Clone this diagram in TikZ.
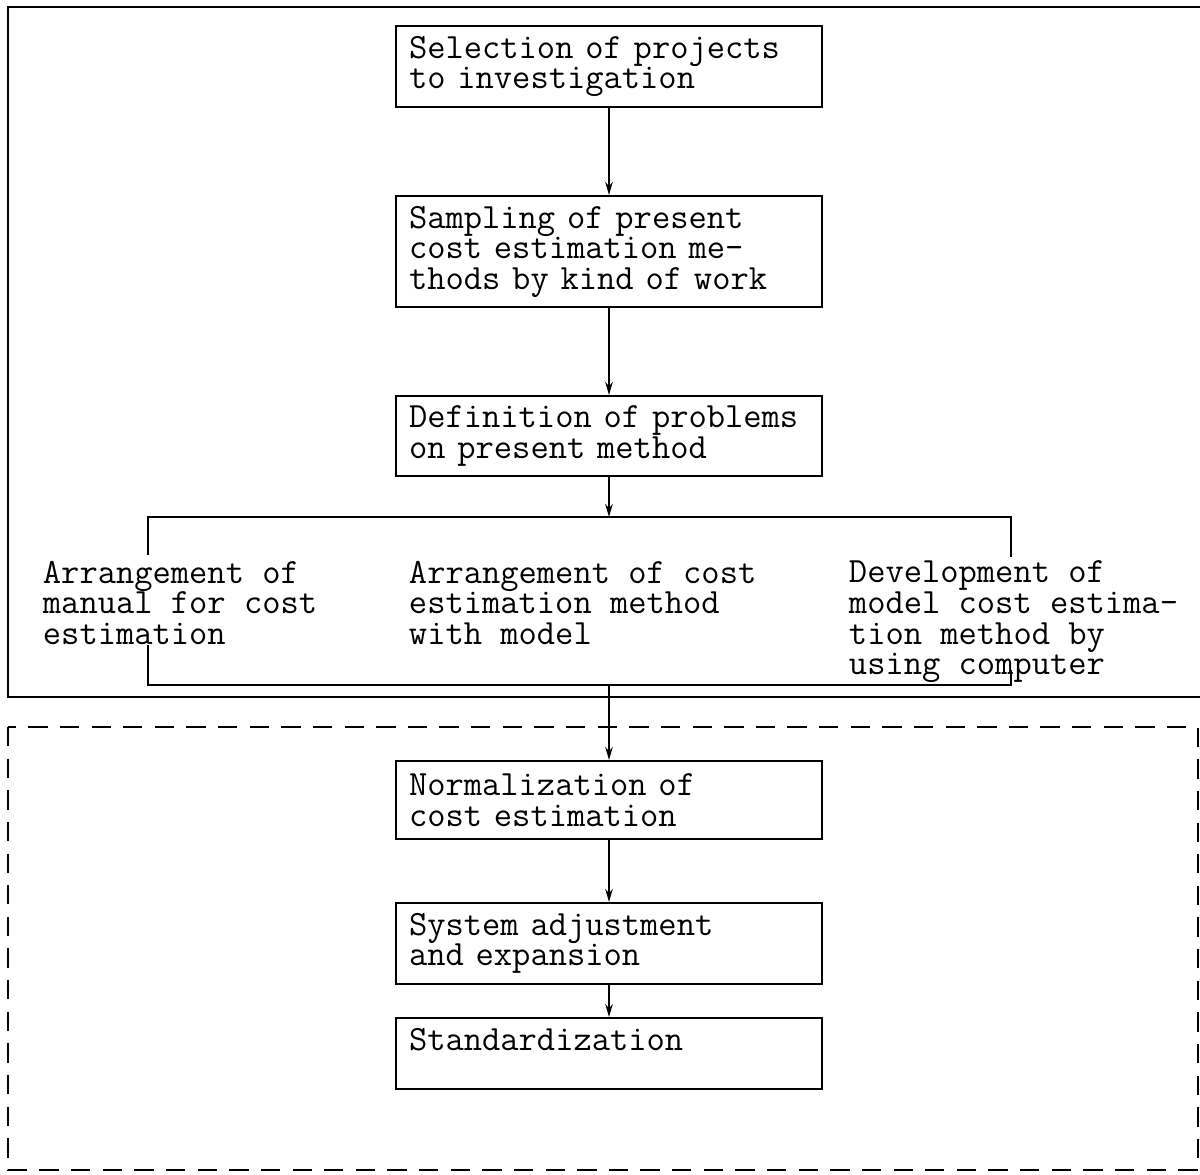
\documentclass[tikz,border=0pt]{standalone}
\usepackage{fontspec}
\usepackage{tikz}
\usetikzlibrary{arrows.meta}
\newcommand{\tw}{\ttfamily\fontsize{20.2pt}{17.4pt}\selectfont}

\begin{document}
\begin{tikzpicture}[line width=1.1pt, >={Stealth[length=0.26cm,width=0.15cm]},
			stage/.style={draw, anchor=north, text width=8.0cm, align=left,
				inner xsep=0.26cm, inner ysep=0.2cm, font=\tw},
			branch/.style={anchor=north west, align=left, inner sep=0pt, font=\tw}]
			\useasboundingbox (0,0) rectangle (24,-23.48);
			\draw (24,-0.14) -- (0.16,-0.14) -- (0.16,-13.94) -- (24,-13.94);
			\draw[dash pattern=on 11pt off 7pt] (0.16,-14.54) rectangle (23.96,-23.4);
			\node[stage, minimum height=1.56cm] (sel) at (12.18,-0.5) {Selection of projects\\to investigation};
			\node[stage, minimum height=2.06cm] (samp) at (12.18,-3.9) {Sampling of present\\cost estimation me-\\thods by kind of work};
			\node[stage, minimum height=1.46cm] (defn) at (12.18,-7.9) {Definition of problems\\on present method};
			\node[branch] (manual) at (0.84,-11.2) {Arrangement of\\manual for cost\\estimation};
			\node[branch] (model) at (8.16,-11.2) {Arrangement of cost\\estimation method\\with model};
			\node[branch] (comp) at (16.96,-11.2) {Development of\\model cost estima-\\tion method by\\using computer};
			\node[stage, minimum height=1.56cm] (norm) at (12.18,-15.2) {Normalization of\\cost estimation};
			\node[stage, minimum height=1.52cm] (adj) at (12.18,-18.04) {System adjustment\\and expansion};
			\node[stage, text depth=0.58cm] (std) at (12.18,-20.34) {Standardization};
			\coordinate (split) at (12.18,-10.34);
			\coordinate (al) at (2.96,-11.1);
			\coordinate (ar) at (20.22,-11.14);
			\coordinate (join) at (12.18,-13.7);
			\coordinate (bl) at (2.96,-12.9);
			\coordinate (br) at (20.22,-13.4);
			\draw[->] (sel) -- (samp);
			\draw[->] (samp) -- (defn);
			\draw[->] (defn) -- (split);
			\draw (al) |- (split) -| (ar);
			\draw (bl) |- (join) -| (br);
			\draw[->] (join) -- (norm);
			\draw[->] (norm) -- (adj);
			\draw[->] (adj) -- (std);
\end{tikzpicture}
\end{document}
